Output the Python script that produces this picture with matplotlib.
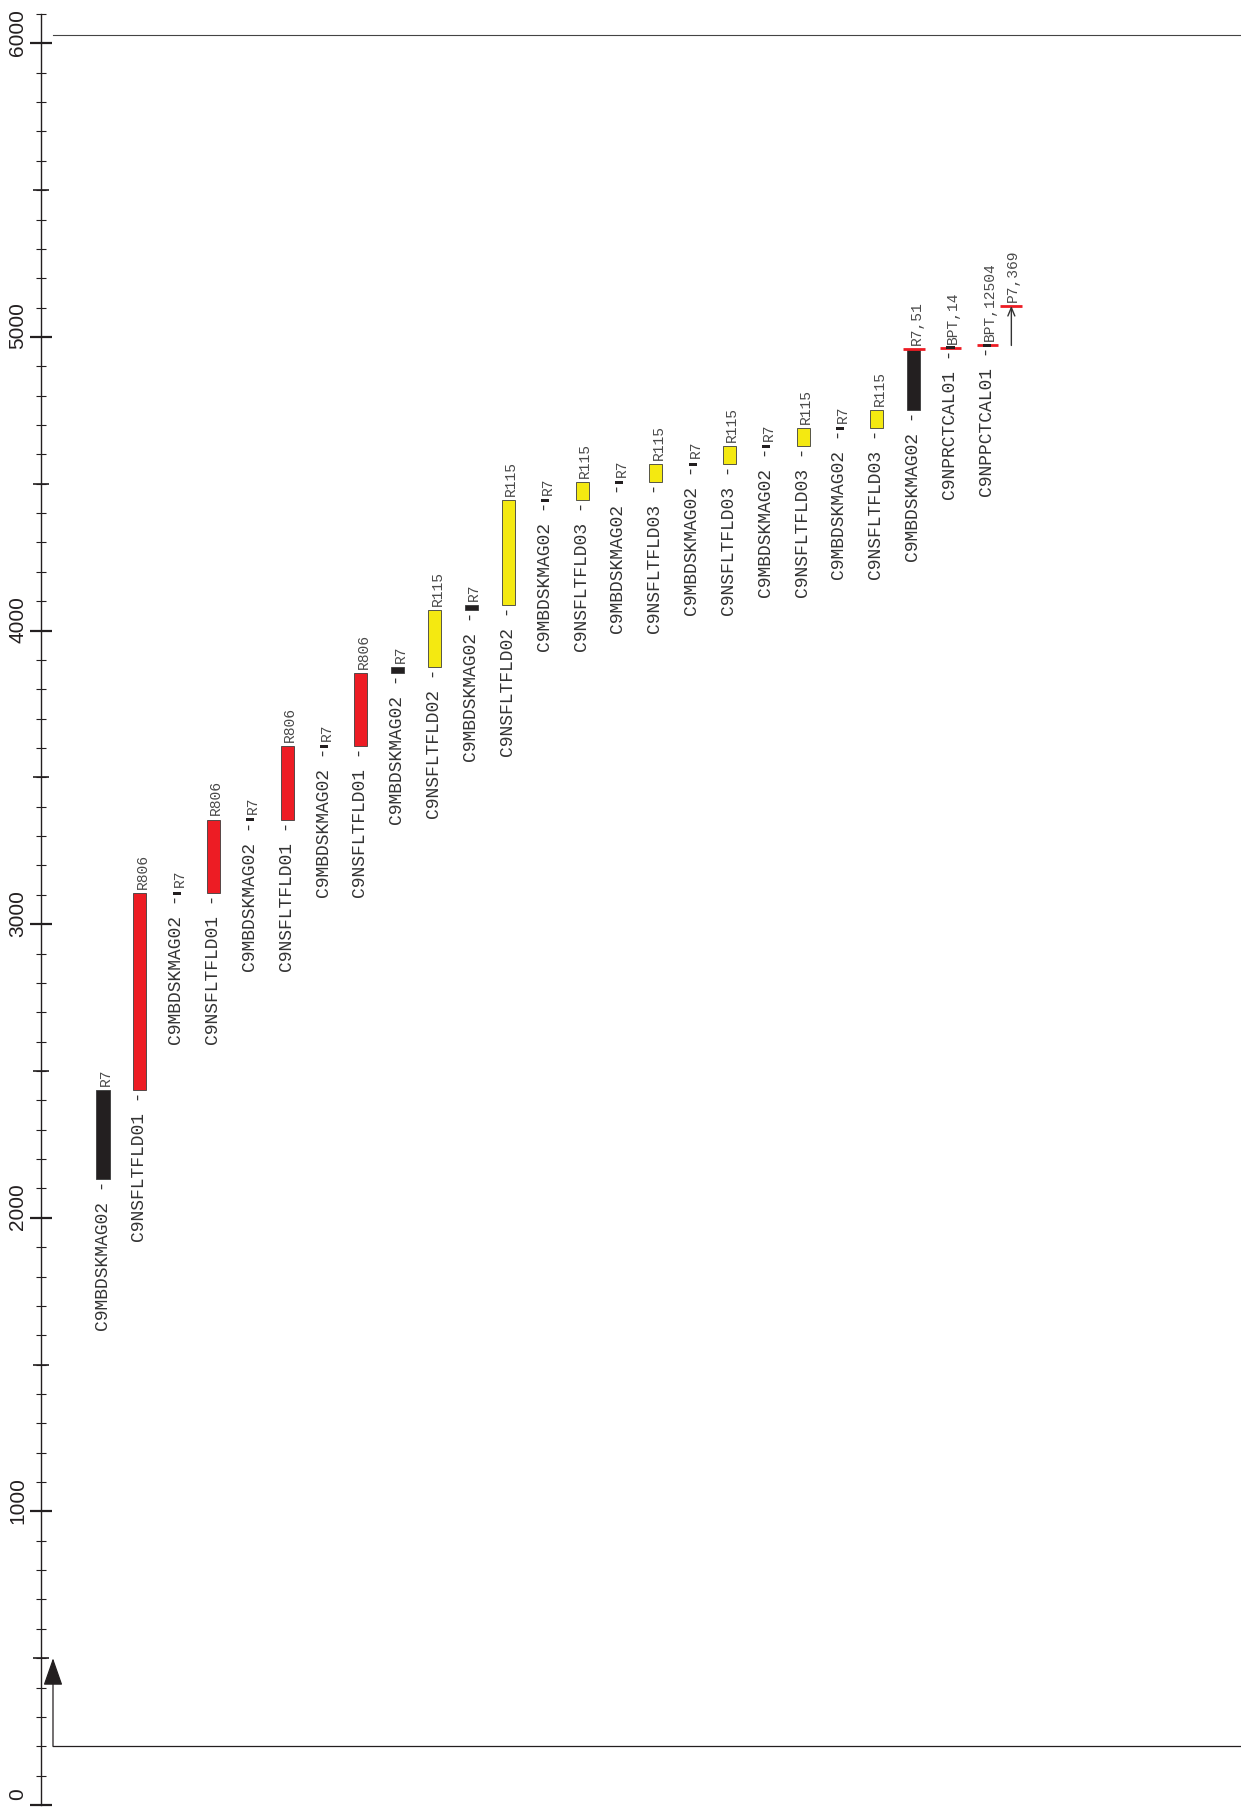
import matplotlib
matplotlib.use("Agg")
import matplotlib.pyplot as plt

# colonnes (de gauche a droite)
names = ['C9MBDSKMAG02', 'C9NSFLTFLD01', 'C9MBDSKMAG02', 'C9NSFLTFLD01',
         'C9MBDSKMAG02', 'C9NSFLTFLD01', 'C9MBDSKMAG02', 'C9NSFLTFLD01',
         'C9MBDSKMAG02', 'C9NSFLTFLD02', 'C9MBDSKMAG02', 'C9NSFLTFLD02',
         'C9MBDSKMAG02', 'C9NSFLTFLD03', 'C9MBDSKMAG02', 'C9NSFLTFLD03',
         'C9MBDSKMAG02', 'C9NSFLTFLD03', 'C9MBDSKMAG02', 'C9NSFLTFLD03',
         'C9MBDSKMAG02', 'C9NSFLTFLD03', 'C9MBDSKMAG02', 'C9NPRCTCAL01',
         'C9NPPCTCAL01']
tags = ['R7', 'R806', 'R7', 'R806', 'R7', 'R806', 'R7', 'R806', 'R7', 'R115',
        'R7', 'R115', 'R7', 'R115', 'R7', 'R115', 'R7', 'R115', 'R7', 'R115',
        'R7', 'R115', 'R7,51', 'BPT,14', 'BPT,12504']
starts = [2132, 2434, 3101, 3106, 3351, 3356, 3601, 3606, 3855, 3875,
          4069, 4086, 4438, 4443, 4500, 4505, 4562, 4567, 4623, 4628,
          4684, 4689, 4750, 4958, 4966]
ends = [2434, 3106, 3111, 3356, 3361, 3606, 3611, 3855, 3875, 4069,
        4086, 4443, 4448, 4505, 4510, 4567, 4572, 4628, 4633, 4689,
        4694, 4750, 4959, 4968, 4976]
kinds = ['K', 'R', 'k', 'R', 'k', 'R', 'k', 'R', 'K', 'Y',
         'K', 'Y', 'k', 'Y', 'k', 'Y', 'k', 'Y', 'k', 'Y',
         'k', 'Y', 'K', 'k', 'k']
caps = [None] * 22 + [4959, 4963, 4971]

arrow_start, arrow_end, arrow_tag = 4971, 5106, 'P7,369'
frame_low, frame_high, frame_arrow = 200, 6028, 500

fills = {'K': '#231f20', 'k': '#231f20', 'R': '#ed1c24', 'Y': '#f4e911'}
red = '#ed1c24'
ink = '#231f20'
mono = 'Liberation Mono'

fig = plt.figure(figsize=(12.41, 18.12), dpi=100)
ax = fig.add_axes([41 / 1241, 0, 1 - 41 / 1241, 1])
ax.set_xlim(-1.6825, 30.882)
ax.set_ylim(-23.8, 6147.6)

for sp in ['top', 'right', 'bottom']:
    ax.spines[sp].set_visible(False)
ax.spines['left'].set_bounds(0, 6100)
ax.spines['left'].set_color(ink)
ax.spines['left'].set_linewidth(1.0)
ax.set_xticks([])

ax.set_yticks(range(0, 6001, 1000))
ax.set_yticks(range(0, 6101, 100), minor=True)
ax.tick_params(axis='y', which='major', direction='inout', length=16.5,
               width=1.6, color=ink, labelleft=False)
ax.tick_params(axis='y', which='minor', direction='inout', length=7.2,
               width=0.8, color=ink)
sec = ax.secondary_yaxis('left')
sec.spines['left'].set_visible(False)
sec.set_yticks(range(500, 6000, 1000))
sec.tick_params(axis='y', direction='inout', length=12.2, width=1.2,
                color=ink, labelleft=False)

for v in range(0, 6001, 1000):
    ax.annotate(str(v), xy=(0, v), xycoords=('axes fraction', 'data'),
                xytext=(-10, 8), textcoords='offset points', rotation=90,
                ha='right', va='center', fontsize=15, color=ink,
                family='Liberation Sans')

# cadre : lignes haut / bas et fleche
fx = -1.357
ax.plot([fx, 31], [frame_high, frame_high], color='#444444', lw=0.8)
ax.plot([fx, 31], [frame_low, frame_low], color=ink, lw=0.9)
ax.annotate('', xy=(fx, frame_arrow), xytext=(fx, frame_low),
            arrowprops=dict(arrowstyle='-|>,head_length=0.8,head_width=0.28',
                            mutation_scale=21.6, color=ink, lw=0.9,
                            shrinkA=0, shrinkB=0))

for i, name in enumerate(names):
    k = kinds[i]
    if caps[i] is not None:
        ax.plot([i - 0.295, i + 0.295], [caps[i], caps[i]], color=red, lw=2.0,
                solid_capstyle='butt', zorder=3)
    if k == 'k':
        # petit trait (evenement ponctuel)
        ax.bar(i, ends[i] - starts[i], bottom=starts[i], width=0.22,
               color=fills[k], linewidth=0, zorder=4)
        low = (starts[i] + ends[i]) / 2 if caps[i] is None else caps[i]
        top = ends[i] if caps[i] is None else caps[i]
    else:
        ax.bar(i, ends[i] - starts[i], bottom=starts[i], width=0.353,
               color=fills[k], edgecolor='#3c3c3c', linewidth=0.6)
        low, top = starts[i], ends[i]
    ax.annotate(name + ' -', xy=(i, low), xytext=(0, -1),
                textcoords='offset points', rotation=90, ha='center',
                va='top', fontsize=13, color='#333333', family=mono)
    ax.annotate(tags[i], xy=(i, top), xytext=(2, 3),
                textcoords='offset points', rotation=90, ha='center',
                va='bottom', fontsize=10.5, color='#4a4a4a', family=mono)

ax_x = len(names) - 1 + 0.65
ax.annotate('', xy=(ax_x, arrow_end), xytext=(ax_x, arrow_start),
            arrowprops=dict(arrowstyle='->,head_length=0.6,head_width=0.25',
                            color='#333333', lw=1.0, shrinkA=0, shrinkB=0))
ax.plot([ax_x - 0.3, ax_x + 0.3], [arrow_end, arrow_end], color=red, lw=2.0,
        solid_capstyle='butt')
ax.annotate(arrow_tag, xy=(ax_x, arrow_end), xytext=(1, 3),
            textcoords='offset points', rotation=90, ha='center',
            va='bottom', fontsize=10.5, color='#4a4a4a', family=mono)

fig.savefig('out.png', dpi=100)
